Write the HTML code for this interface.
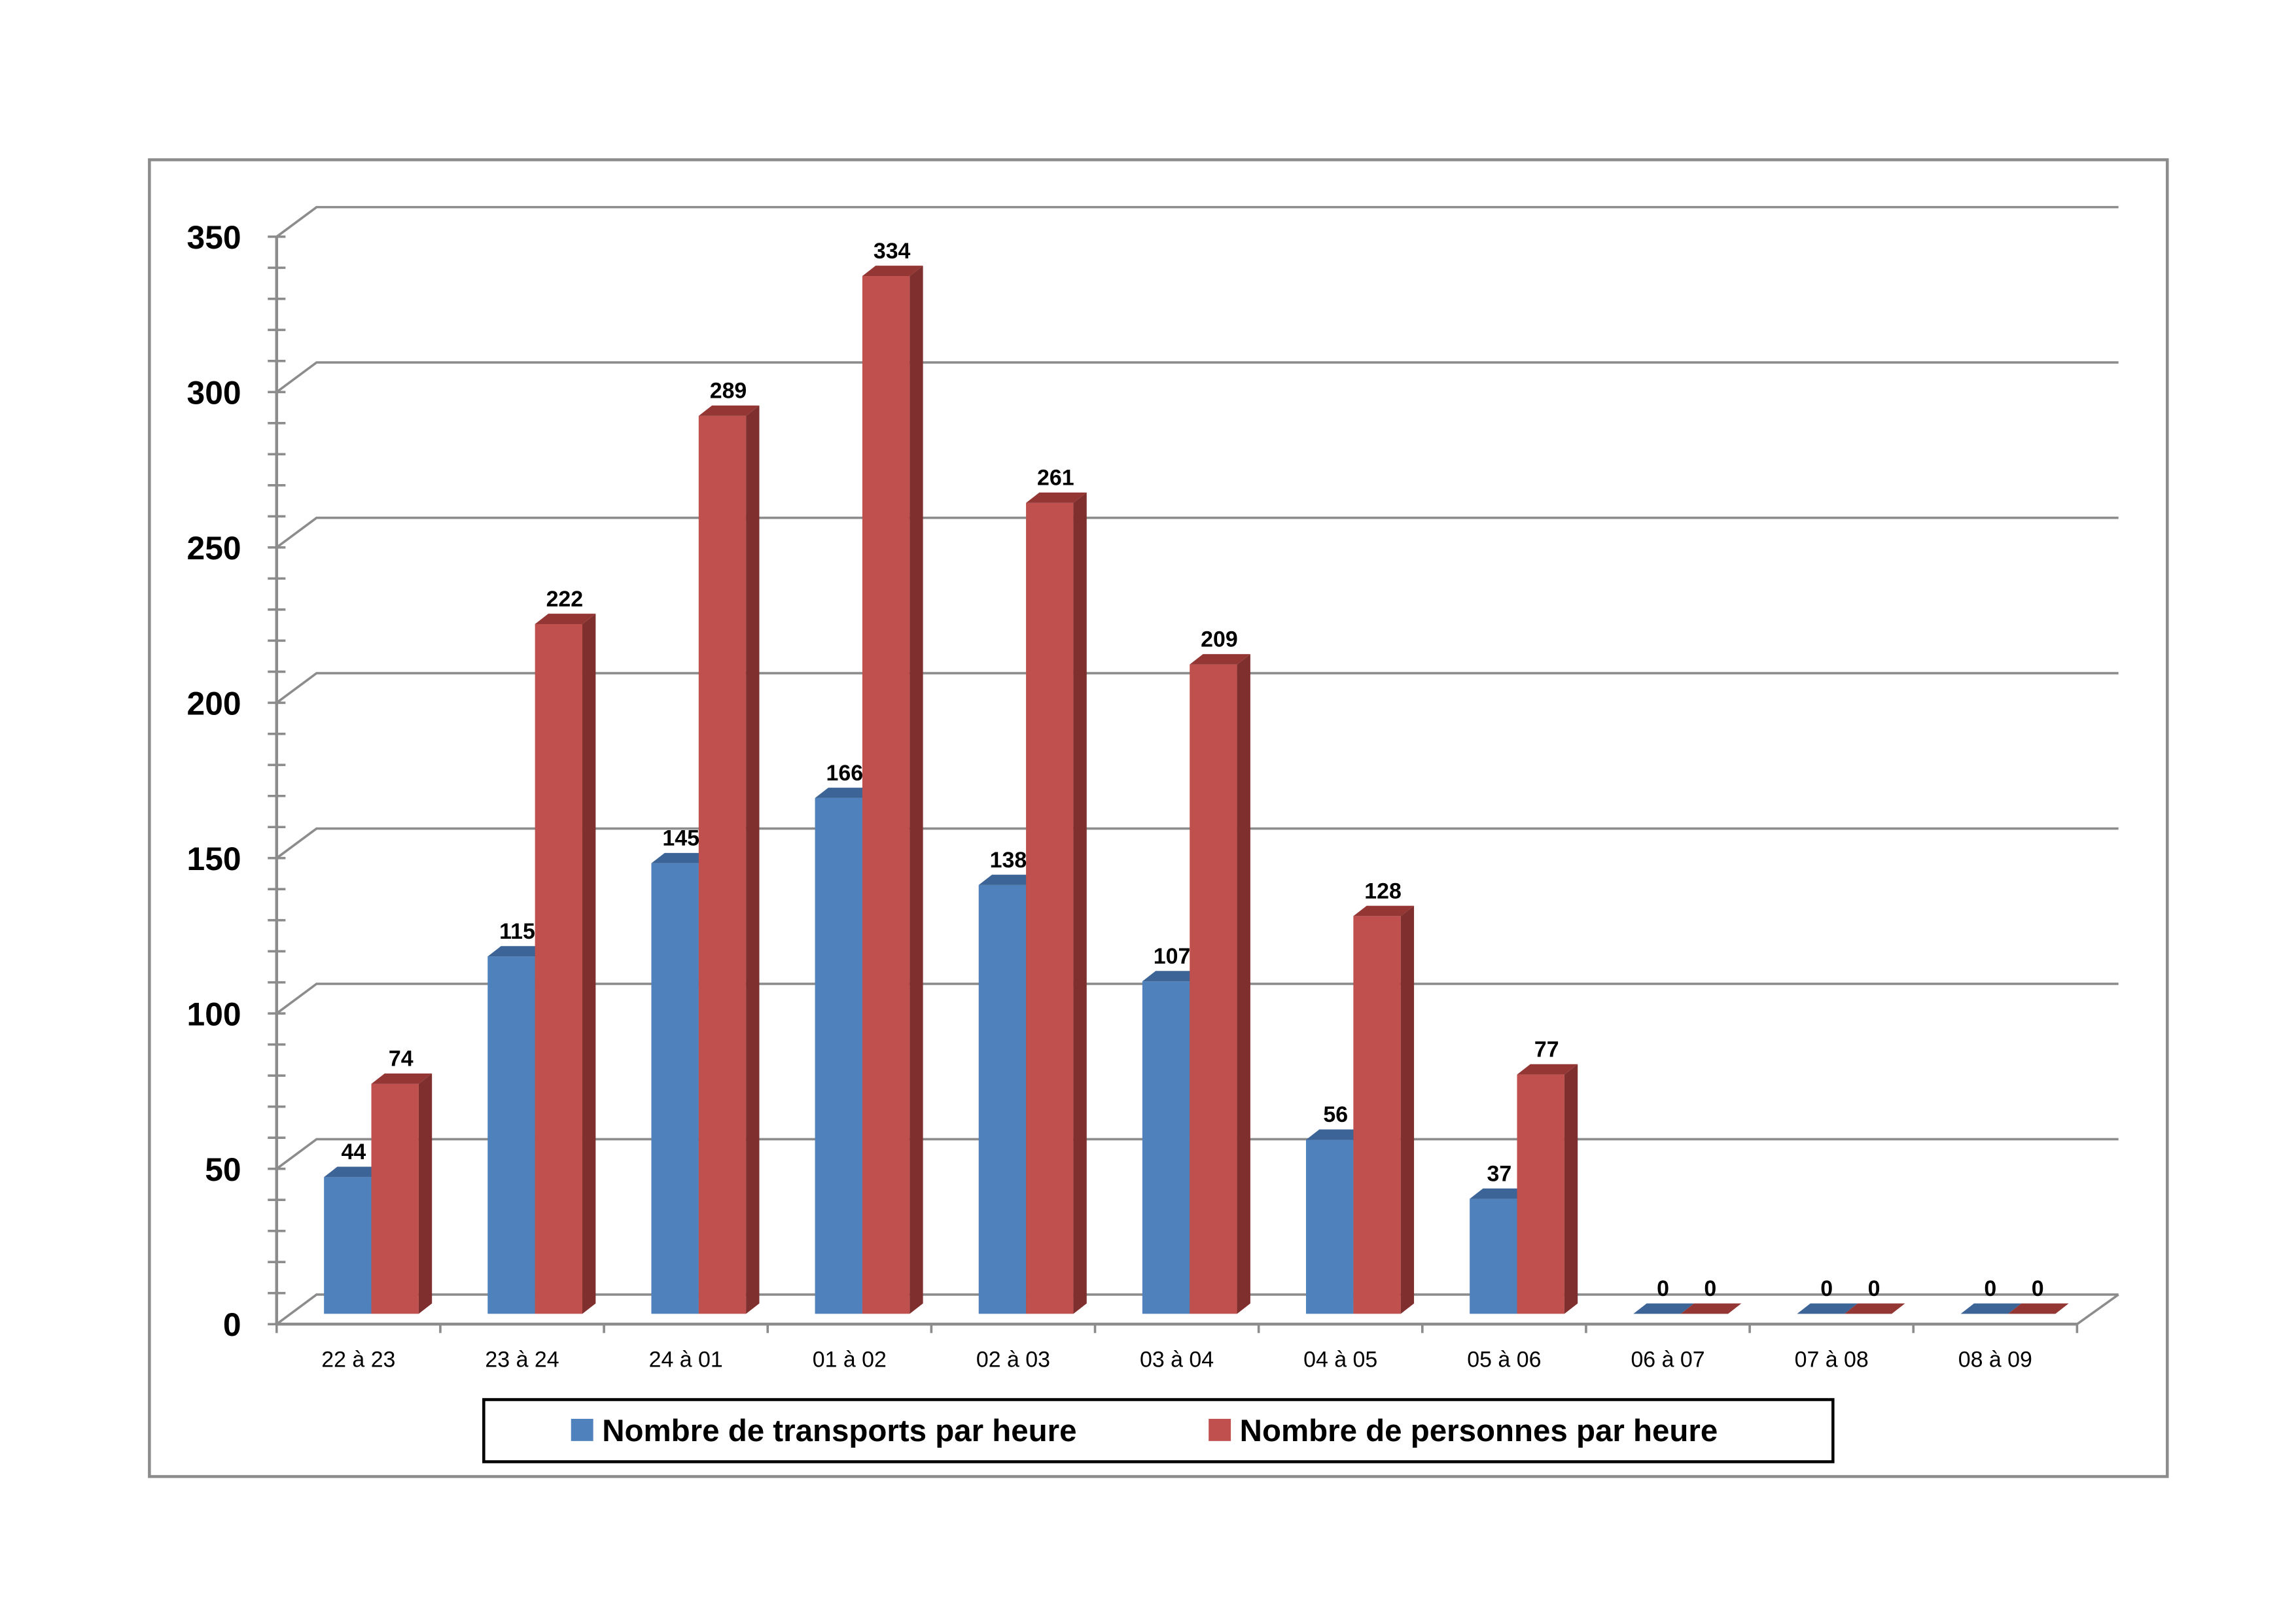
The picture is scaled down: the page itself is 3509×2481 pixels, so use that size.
<!DOCTYPE html>
<html><head><meta charset="utf-8"><style>
html,body{margin:0;padding:0;background:#fff;}
svg{display:block;}
text{font-family:"Liberation Sans",sans-serif;}
</style></head><body>
<svg id="chart" width="3509" height="2481" viewBox="0 0 1552 1097" preserveAspectRatio="none" xmlns="http://www.w3.org/2000/svg">
<rect x="101" y="108" width="1364" height="890" fill="#fff" stroke="#8c8c8c" stroke-width="2"/>
<g id="grid"></g>
<g id="axes"></g>
<g id="bars"></g>
<g id="labels"></g>
<g>
<rect x="327" y="946" width="912" height="42" fill="#fff" stroke="#000" stroke-width="2"/>
<rect x="386" y="959" width="15" height="15" fill="#4f81bd"/>
<text x="407" y="974" font-size="21" font-weight="bold">Nombre de transports par heure</text>
<rect x="817" y="959" width="15" height="15" fill="#c0504d"/>
<text x="838" y="974" font-size="21" font-weight="bold">Nombre de personnes par heure</text>
</g>
</svg>
<script>
const categories = ["22 à 23","23 à 24","24 à 01","01 à 02","02 à 03","03 à 04","04 à 05","05 à 06","06 à 07","07 à 08","08 à 09"];
const transports = [44,115,145,166,138,107,56,37,0,0,0];
const personnes = [74,222,289,334,261,209,128,77,0,0,0];
const yTicks = [0,50,100,150,200,250,300,350];

const NS = "http://www.w3.org/2000/svg";
const X0 = 187, X1 = 1404, FRONT0 = 895, DX = 27, DY = -20;
const BASE = 888, PXU = 2.1;
const catW = (X1 - X0) / categories.length;
function xCat(i){ return X0 + i * catW; }
function yFront(v){ return FRONT0 - v * PXU; }
function yBar(v){ return BASE - v * PXU; }
function mk(tag, attrs, parent){
  const e = document.createElementNS(NS, tag);
  for (const k in attrs) e.setAttribute(k, attrs[k]);
  parent.appendChild(e);
  return e;
}
const grid = document.getElementById('grid');
const axes = document.getElementById('axes');
const bars = document.getElementById('bars');
const labels = document.getElementById('labels');

// gridlines
yTicks.forEach(v => {
  const y = yFront(v);
  const g = mk('polyline', {points: `${X0},${y} ${X0+DX},${y+DY} ${1432},${y+DY}`, fill:'none', stroke:'#8c8c8c', 'stroke-width':1.6}, grid);
  
  
  const t = mk('text', {x:163, y:y+8, 'font-size':22, 'font-weight':'bold', 'text-anchor':'end'}, labels);
  t.textContent = v;
  
  
});
// floor right edge
const fr = mk('line', {x1:X1, y1:FRONT0, x2:1432, y2:FRONT0+DY, stroke:'#8c8c8c', 'stroke-width':1.6}, grid);


// y axis
const ya = mk('line', {x1:X0, y1:yFront(350), x2:X0, y2:FRONT0, stroke:'#8c8c8c', 'stroke-width':2}, axes);


for (let v = 0; v <= 350; v += 10) {
  const tk = mk('line', {x1:X0-6, y1:yFront(v), x2:X0+6, y2:yFront(v), stroke:'#8c8c8c', 'stroke-width':1.6}, axes);
  
  
}
const xa = mk('line', {x1:X0, y1:FRONT0, x2:X1, y2:FRONT0, stroke:'#8c8c8c', 'stroke-width':2}, axes);


for (let i = 0; i <= categories.length; i++) {
  const tk = mk('line', {x1:xCat(i), y1:FRONT0, x2:xCat(i), y2:FRONT0+6, stroke:'#8c8c8c', 'stroke-width':1.6}, axes);
  
  
}
const BW = 32, SDX = 9, SDY = -7;
function bar(x, v, front, top, side, name){
  const t = yBar(v);
  const g = mk('g', {}, bars);
  
  
  if (v > 0) {
    mk('rect', {x:x, y:t, width:BW, height:BASE-t, fill:front}, g);
    mk('polygon', {points:`${x+BW},${t} ${x+BW+SDX},${t+SDY} ${x+BW+SDX},${BASE+SDY} ${x+BW},${BASE}`, fill:side}, g);
  }
  mk('polygon', {points:`${x},${t} ${x+BW},${t} ${x+BW+SDX},${t+SDY} ${x+SDX},${t+SDY}`, fill:top}, g);
  const lb = mk('text', {x:x+BW/2+4, y:t-12, 'font-size':15, 'font-weight':'bold', 'text-anchor':'middle'}, labels);
  lb.textContent = v;
  
  
}
categories.forEach((c, i) => {
  const x = xCat(i) + 32;
  bar(x, transports[i], '#4f81bd', '#3c6496', '#2c4d75', 'bar-transports-' + i);
  bar(x + BW, personnes[i], '#c0504d', '#943634', '#7f2f2d', 'bar-personnes-' + i);
  const t = mk('text', {x:xCat(i)+catW/2, y:924, 'font-size':15, 'text-anchor':'middle'}, labels);
  t.textContent = c;
  
  
});
</script>
</body></html>
